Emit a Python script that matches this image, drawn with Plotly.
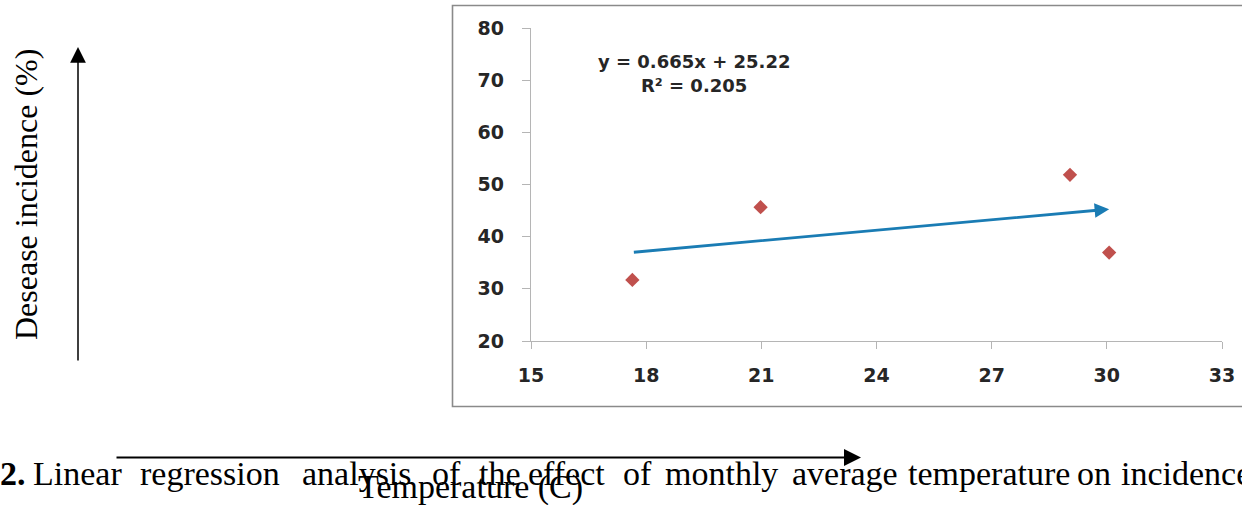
import plotly.graph_objects as go

# ---------------- data ----------------
temperature = [17.64, 20.98, 29.04, 30.06]
incidence = [31.7, 45.65, 51.85, 36.95]
trend_x = [17.64, 30.06]
trend_y = [37.0, 45.27]
x_ticks = [15, 18, 21, 24, 27, 30, 33]
y_ticks = [20, 30, 40, 50, 60, 70, 80]
equation_text = "y = 0.665x + 25.22"
r2_text = "R² = 0.205"
y_title = "Desease incidence (%)"
x_title = "Temperature (C)"
caption_words = ["2.", "Linear", "regression", "analysis", "of", "the", "effect",
                 "of", "monthly", "average", "temperature", "on", "incidence"]

# ---------------- layout helpers ----------------
W, H = 1242, 505
ML, MT, PW, PH = 531, 28, 691, 313
MR = W - ML - PW
MB = H - MT - PH


def px(xp):
    return (xp - ML) / PW


def py(yp):
    return 1 - (yp - MT) / PH


caption_x = [0, 33, 140, 302, 432, 479, 528, 623, 665, 792, 908, 1077, 1121]

fig = go.Figure()
fig.add_trace(go.Scatter(
    x=temperature, y=incidence, mode="markers",
    marker=dict(symbol="diamond", size=11, color="#C0504D", line=dict(width=0)),
    showlegend=False, hoverinfo="x+y"))

tick_font = dict(family="DejaVu Sans", size=19, color="#262626", weight="bold")

fig.update_layout(
    width=W, height=H,
    margin=dict(l=ML, r=MR, t=MT, b=MB, autoexpand=False),
    paper_bgcolor="white", plot_bgcolor="white",
    showlegend=False,
    xaxis=dict(range=[15, 33], tickmode="array", tickvals=x_ticks,
               showgrid=False, zeroline=False, showline=True,
               linecolor="#b5b5b5", linewidth=1.3,
               ticks="outside", ticklen=7, tickcolor="#b5b5b5", tickwidth=1.3,
               tickfont=tick_font, ticklabelstandoff=10, automargin=False),
    yaxis=dict(range=[20, 80], tickmode="array", tickvals=y_ticks,
               showgrid=False, zeroline=False, showline=True,
               linecolor="#b5b5b5", linewidth=1.3,
               ticks="outside", ticklen=8, tickcolor="#b5b5b5", tickwidth=1.3,
               tickfont=tick_font, ticklabelstandoff=14, automargin=False),
)

# chart frame
fig.add_shape(type="rect", xref="paper", yref="paper",
              x0=px(452.5), x1=px(1260), y0=py(406.5), y1=py(5.5),
              line=dict(color="#8a8a8a", width=1.6), fillcolor="rgba(0,0,0,0)",
              layer="below")

# trend line with arrow
fig.add_annotation(x=trend_x[1], y=trend_y[1], ax=trend_x[0], ay=trend_y[0],
                   xref="x", yref="y", axref="x", ayref="y", text="",
                   showarrow=True, arrowhead=2, arrowsize=1.0, arrowwidth=2.9,
                   arrowcolor="#1A7CB4", standoff=0)

# equation
eq_font = dict(family="DejaVu Sans", size=18, color="#262626", weight="bold")
fig.add_annotation(x=px(694), y=py(61), xref="paper", yref="paper",
                   text=equation_text, showarrow=False, font=eq_font,
                   xanchor="center", yanchor="middle")
fig.add_annotation(x=px(694), y=py(86), xref="paper", yref="paper",
                   text=r2_text, showarrow=False, font=eq_font,
                   xanchor="center", yanchor="middle")

serif = "Liberation Serif, Times New Roman, serif"

# y title and vertical arrow
fig.add_annotation(x=px(26), y=py(195), xref="paper", yref="paper",
                   text=y_title, textangle=-90, showarrow=False,
                   font=dict(family=serif, size=32, color="black"),
                   xanchor="center", yanchor="middle")
fig.add_annotation(x=px(78), y=py(47), xref="paper", yref="paper",
                   ax=0, ay=362 - 47, text="", showarrow=True,
                   arrowhead=2, arrowsize=2.1, arrowwidth=1.5,
                   arrowcolor="black", standoff=0)

# horizontal arrow
fig.add_annotation(x=px(861), y=py(457.5), xref="paper", yref="paper",
                   ax=-(861 - 115), ay=0, text="", showarrow=True,
                   arrowhead=2, arrowsize=1.7, arrowwidth=2.0,
                   arrowcolor="black", standoff=0)

# x title
fig.add_annotation(x=px(356), y=py(487), xref="paper", yref="paper",
                   text=x_title, showarrow=False,
                   font=dict(family=serif, size=34, color="black"),
                   xanchor="left", yanchor="middle")

# caption
for i, (word, xs) in enumerate(zip(caption_words, caption_x)):
    fig.add_annotation(x=px(xs - 2), y=py(473.5), xref="paper", yref="paper",
                       text=("<b>%s</b>" % word) if i == 0 else word,
                       showarrow=False,
                       font=dict(family=serif, size=34, color="black"),
                       xanchor="left", yanchor="middle")

fig.write_html("out.html")
